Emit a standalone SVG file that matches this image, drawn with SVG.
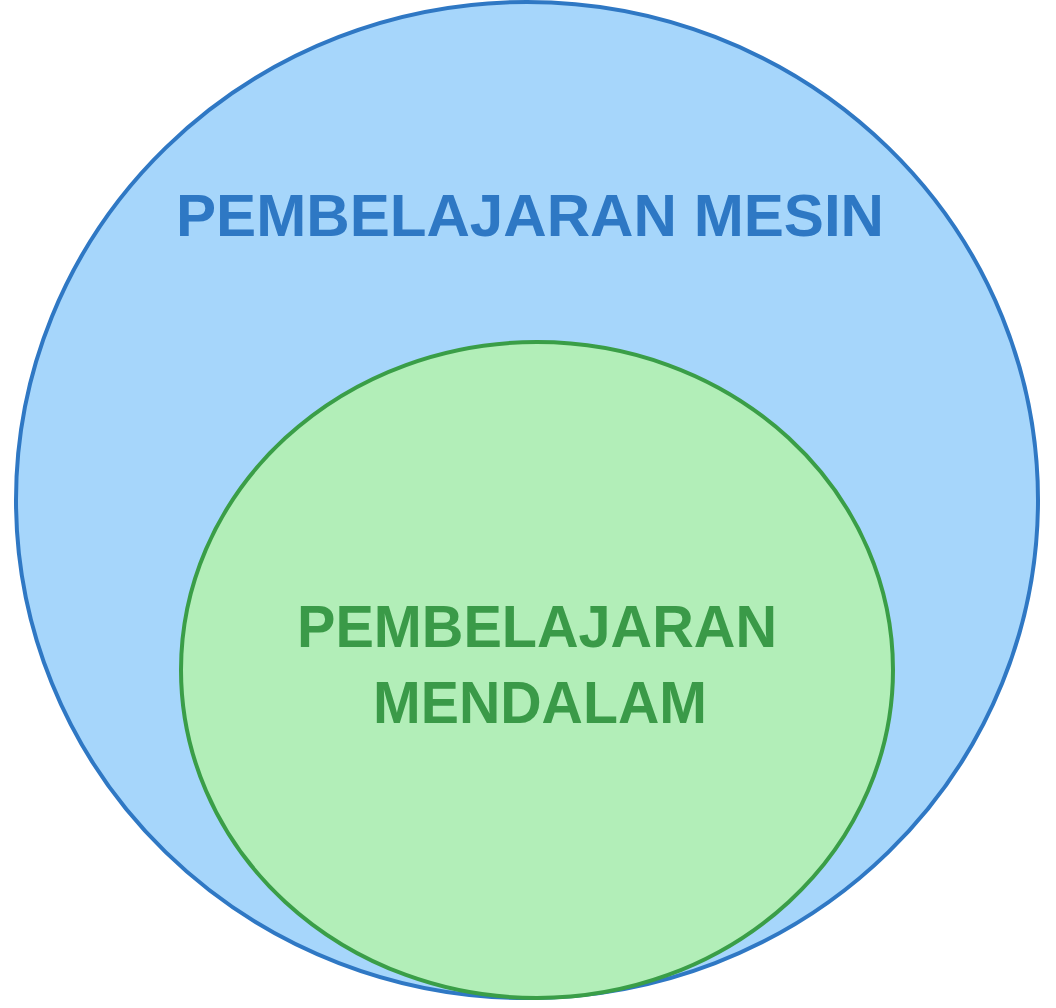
<svg xmlns="http://www.w3.org/2000/svg" width="1056" height="1008" viewBox="0 0 1056 1008">
<style>
.lbl{font-family:"Liberation Sans","DejaVu Sans",sans-serif;font-weight:bold;font-size:60px;text-anchor:middle}
</style>
<rect width="1056" height="1008" fill="#ffffff"/>
<g id="outer">
<ellipse cx="527" cy="500" rx="511" ry="498" fill="#a6d6fb" stroke="#2f78c4" stroke-width="4"/>
<text class="lbl" x="530" y="236" fill="#2e78c4" textLength="708" lengthAdjust="spacingAndGlyphs">PEMBELAJARAN MESIN</text>
</g>
<g id="inner">
<ellipse cx="537" cy="670" rx="356" ry="328" fill="#b2eeb8" stroke="#3a9e47" stroke-width="4"/>
<text class="lbl" x="537" y="647" fill="#3a9a48" textLength="480" lengthAdjust="spacingAndGlyphs">PEMBELAJARAN</text>
<text class="lbl" x="540" y="723" fill="#3a9a48" textLength="334" lengthAdjust="spacingAndGlyphs">MENDALAM</text>
</g>
<g id="connectors"/>
</svg>
